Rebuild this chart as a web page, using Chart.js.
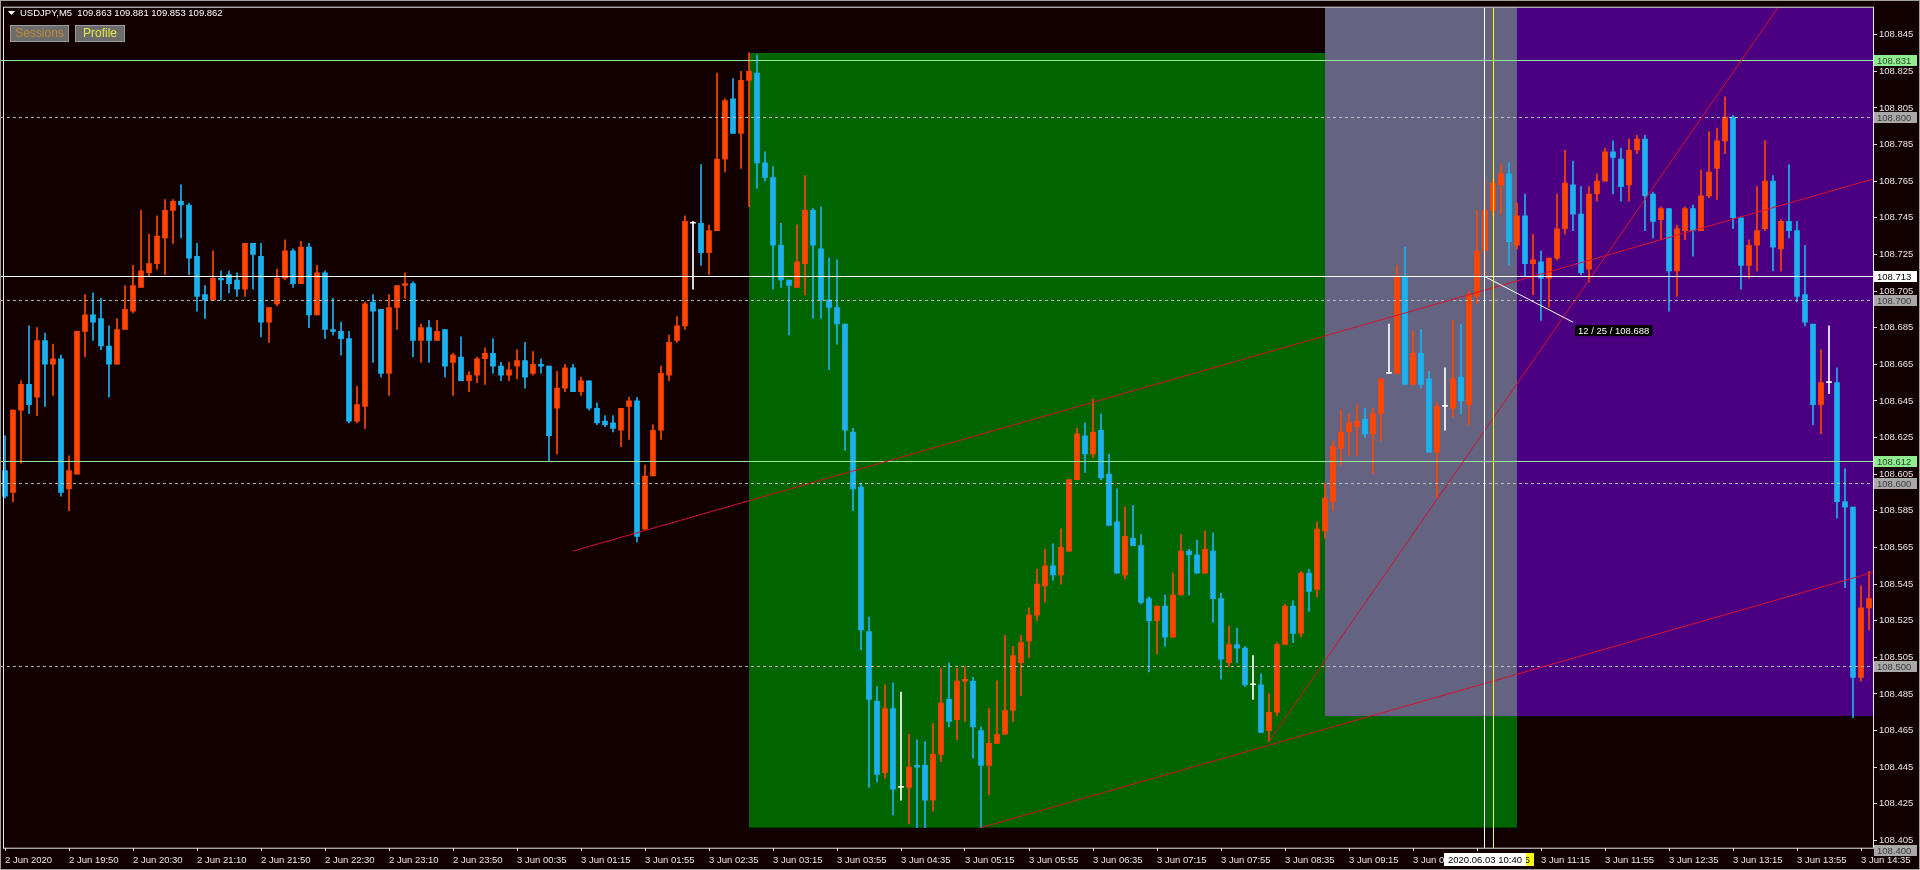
<!DOCTYPE html>
<html>
<head>
<meta charset="utf-8">
<script src="https://cdn.jsdelivr.net/npm/chart.js@4.4.1/dist/chart.umd.min.js"></script>
<style>
  html, body { margin: 0; padding: 0; background: #120000; }
  #wrap { position: relative; width: 1920px; height: 870px; }
</style>
</head>
<body>
<div id="wrap"><canvas id="chart"></canvas></div>
<script>
// ---------- Data (USDJPY M5, one value per bar) ----------
const opens = [
  108.607,108.595,108.640,108.654,108.647,108.678,108.665,108.668,108.597,108.605,
  108.683,108.692,108.690,108.675,108.665,108.684,108.694,108.707,108.715,108.720,
  108.734,108.749,108.754,108.752,108.724,108.703,108.700,108.712,108.714,108.711,
  108.706,108.731,108.724,108.688,108.698,108.712,108.727,108.709,108.729,108.692,
  108.715,108.684,108.683,108.679,108.634,108.642,108.699,108.695,108.660,108.696,
  108.708,108.709,108.678,108.685,108.678,108.684,108.666,108.669,108.656,108.659,
  108.668,108.671,108.664,108.659,108.664,108.667,108.660,108.665,108.664,108.641,
  108.652,108.663,108.650,108.656,108.641,108.634,108.633,108.629,108.642,108.645,
  108.575,108.604,108.629,108.659,108.678,108.686,108.742,108.742,108.726,108.738,
  108.777,108.810,108.791,108.820,108.824,108.775,108.767,108.730,108.711,108.707,
  108.720,108.749,108.728,108.700,108.696,108.687,108.628,108.598,108.519,108.481,
  108.442,108.477,108.434,108.434,108.446,108.446,108.427,108.452,108.482,108.471,
  108.492,108.492,108.465,108.446,108.458,108.463,108.476,108.502,108.514,108.528,
  108.544,108.555,108.550,108.563,108.602,108.626,108.616,108.629,108.605,108.579,
  108.550,108.570,108.566,108.537,108.525,108.533,108.516,108.539,108.563,108.561,
  108.551,108.563,108.537,108.502,108.512,108.510,108.490,108.490,108.465,108.475,
  108.512,108.533,108.518,108.551,108.542,108.574,108.590,108.619,108.628,108.631,
  108.635,108.627,108.638,108.660,108.660,108.713,108.654,108.671,108.657,108.617,
  108.642,108.641,108.658,108.643,108.702,108.727,108.749,108.763,108.769,108.730,
  108.746,108.720,108.721,108.712,108.723,108.739,108.763,108.747,108.717,108.758,
  108.765,108.781,108.777,108.763,108.782,108.788,108.758,108.744,108.750,108.716,
  108.738,108.750,108.738,108.757,108.772,108.787,108.800,108.745,108.719,108.730,
  108.739,108.765,108.728,108.743,108.738,108.703,108.687,108.643,108.655,108.655,
  108.590,108.587,108.494,108.532
];
const highs = [
  108.626,108.640,108.656,108.686,108.685,108.682,108.676,108.670,108.615,108.683,
  108.703,108.704,108.701,108.686,108.690,108.708,108.719,108.749,108.736,108.746,
  108.755,108.755,108.763,108.753,108.731,108.708,108.727,108.716,108.716,108.715,
  108.731,108.731,108.731,108.696,108.717,108.733,108.728,108.732,108.731,108.719,
  108.716,108.701,108.688,108.683,108.653,108.699,108.703,108.695,108.703,108.708,
  108.715,108.710,108.687,108.689,108.689,108.684,108.671,108.680,108.661,108.669,
  108.674,108.679,108.666,108.666,108.673,108.677,108.672,108.668,108.664,108.661,
  108.665,108.665,108.658,108.656,108.644,108.637,108.637,108.641,108.647,108.647,
  108.610,108.632,108.664,108.681,108.691,108.746,108.743,108.774,108.741,108.824,
  108.810,108.821,108.825,108.835,108.834,108.781,108.773,108.742,108.711,108.741,
  108.768,108.750,108.751,108.723,108.722,108.687,108.630,108.600,108.527,108.489,
  108.490,108.491,108.486,108.463,108.460,108.459,108.469,108.499,108.502,108.499,
  108.500,108.494,108.467,108.477,108.492,108.517,108.511,108.517,108.532,108.553,
  108.564,108.567,108.575,108.602,108.630,108.633,108.646,108.638,108.616,108.597,
  108.587,108.588,108.572,108.538,108.533,108.539,108.551,108.572,108.564,108.569,
  108.574,108.573,108.540,108.522,108.521,108.511,108.506,108.496,108.485,108.513,
  108.534,108.536,108.552,108.553,108.579,108.600,108.623,108.640,108.638,108.643,
  108.641,108.641,108.657,108.687,108.719,108.729,108.683,108.684,108.661,108.644,
  108.663,108.689,108.687,108.705,108.749,108.765,108.766,108.774,108.775,108.753,
  108.758,108.736,108.727,108.723,108.758,108.782,108.776,108.762,108.762,108.769,
  108.783,108.787,108.783,108.788,108.790,108.790,108.759,108.751,108.750,108.741,
  108.751,108.752,108.771,108.792,108.794,108.811,108.801,108.745,108.733,108.762,
  108.787,108.768,108.744,108.774,108.743,108.730,108.687,108.673,108.686,108.663,
  108.608,108.587,108.544,108.552
];
const lows = [
  108.592,108.590,108.611,108.638,108.637,108.642,108.648,108.593,108.585,108.605,
  108.669,108.678,108.673,108.647,108.665,108.684,108.693,108.707,108.713,108.717,
  108.714,108.731,108.734,108.714,108.694,108.690,108.700,108.700,108.704,108.702,
  108.702,108.706,108.680,108.677,108.697,108.711,108.707,108.709,108.685,108.692,
  108.679,108.681,108.670,108.633,108.633,108.630,108.666,108.658,108.648,108.684,
  108.701,108.669,108.666,108.666,108.678,108.658,108.648,108.656,108.650,108.655,
  108.654,108.660,108.656,108.656,108.657,108.652,108.659,108.660,108.612,108.616,
  108.650,108.650,108.648,108.640,108.632,108.631,108.628,108.620,108.624,108.568,
  108.575,108.604,108.624,108.656,108.677,108.684,108.706,108.719,108.714,108.738,
  108.770,108.791,108.772,108.751,108.761,108.765,108.706,108.707,108.681,108.707,
  108.703,108.690,108.690,108.662,108.676,108.618,108.585,108.509,108.434,108.437,
  108.439,108.419,108.427,108.414,108.412,108.412,108.421,108.448,108.467,108.460,
  108.470,108.450,108.412,108.430,108.458,108.463,108.470,108.484,108.505,108.525,
  108.535,108.547,108.545,108.563,108.602,108.606,108.614,108.602,108.577,108.551,
  108.548,108.566,108.534,108.497,108.507,108.511,108.516,108.539,108.539,108.551,
  108.551,108.524,108.493,108.500,108.502,108.489,108.482,108.464,108.459,108.473,
  108.512,108.513,108.516,108.530,108.538,108.570,108.585,108.610,108.615,108.615,
  108.625,108.605,108.623,108.660,108.660,108.654,108.654,108.652,108.617,108.592,
  108.629,108.636,108.638,108.632,108.698,108.714,108.746,108.747,108.719,108.728,
  108.713,108.703,108.689,108.696,108.722,108.736,108.738,108.714,108.710,108.754,
  108.765,108.758,108.754,108.754,108.780,108.738,108.734,108.733,108.694,108.702,
  108.733,108.724,108.738,108.756,108.755,108.780,108.739,108.706,108.712,108.716,
  108.738,108.716,108.716,108.734,108.699,108.686,108.632,108.627,108.649,108.581,
  108.543,108.472,108.492,108.520
];
const closes = [
  108.593,108.640,108.654,108.643,108.678,108.665,108.668,108.595,108.607,108.683,
  108.692,108.688,108.675,108.665,108.684,108.695,108.708,108.716,108.720,108.735,
  108.749,108.754,108.752,108.723,108.702,108.700,108.712,108.711,108.709,108.706,
  108.731,108.725,108.688,108.696,108.712,108.727,108.709,108.729,108.692,108.715,
  108.684,108.683,108.679,108.634,108.643,108.698,108.694,108.660,108.696,108.708,
  108.709,108.678,108.685,108.678,108.683,108.664,108.670,108.656,108.659,108.668,
  108.671,108.664,108.659,108.662,108.667,108.658,108.665,108.664,108.626,108.652,
  108.663,108.650,108.656,108.641,108.633,108.632,108.630,108.641,108.645,108.571,
  108.604,108.629,108.660,108.677,108.686,108.743,108.742,108.726,108.738,108.777,
  108.809,108.791,108.820,108.825,108.775,108.767,108.730,108.711,108.708,108.721,
  108.749,108.730,108.700,108.696,108.687,108.629,108.597,108.520,108.482,108.441,
  108.477,108.433,108.434,108.445,108.445,108.427,108.452,108.480,108.470,108.492,
  108.493,108.467,108.446,108.458,108.463,108.476,108.506,108.513,108.528,108.545,
  108.555,108.550,108.565,108.602,108.627,108.616,108.628,108.603,108.577,108.551,
  108.571,108.566,108.535,108.525,108.533,108.516,108.539,108.563,108.561,108.551,
  108.564,108.537,108.504,108.512,108.510,108.490,108.490,108.464,108.475,108.512,
  108.533,108.518,108.551,108.541,108.575,108.592,108.620,108.628,108.633,108.634,
  108.627,108.638,108.657,108.660,108.713,108.654,108.671,108.654,108.617,108.642,
  108.642,108.657,108.645,108.703,108.727,108.749,108.764,108.769,108.732,108.746,
  108.720,108.722,108.712,108.723,108.739,108.764,108.747,108.715,108.758,108.765,
  108.781,108.778,108.762,108.782,108.788,108.757,108.743,108.750,108.716,108.739,
  108.750,108.738,108.757,108.770,108.787,108.800,108.745,108.719,108.730,108.738,
  108.765,108.729,108.743,108.738,108.702,108.688,108.643,108.655,108.655,108.590,
  108.587,108.494,108.532,108.537
];

// time axis: bar index of each label and its text
const xTickIdx = [0, 8, 16, 24, 32, 40, 48, 56, 64, 72, 80, 88, 96, 104, 112,
  120, 128, 136, 144, 152, 160, 168, 176, 184, 192, 200, 208, 216, 224, 232];
const xTickText = ['2 Jun 2020', '2 Jun 19:50', '2 Jun 20:30', '2 Jun 21:10', '2 Jun 21:50',
  '2 Jun 22:30', '2 Jun 23:10', '2 Jun 23:50', '3 Jun 00:35', '3 Jun 01:15', '3 Jun 01:55',
  '3 Jun 02:35', '3 Jun 03:15', '3 Jun 03:55', '3 Jun 04:35', '3 Jun 05:15', '3 Jun 05:55',
  '3 Jun 06:35', '3 Jun 07:15', '3 Jun 07:55', '3 Jun 08:35', '3 Jun 09:15', '3 Jun 09:55',
  '3 Jun 10:35', '3 Jun 11:15', '3 Jun 11:55', '3 Jun 12:35', '3 Jun 13:15', '3 Jun 13:55',
  '3 Jun 14:35'];

// price axis ticks
const yTickVals = [108.845, 108.825, 108.805, 108.785, 108.765, 108.745, 108.725, 108.705,
  108.685, 108.665, 108.645, 108.625, 108.605, 108.585, 108.565, 108.545, 108.525, 108.505,
  108.485, 108.465, 108.445, 108.425, 108.405];

// chart objects (bar index / price)
const dashLevels = [108.800, 108.700, 108.600, 108.500, 108.400];
const greenLevels = [108.831, 108.612];
const crossPrice = 108.713;
const crossBar = 185;
const crossEnd = [196, 108.688];
const vlineBar = 186;
const sessionBox = { from: 93, to: 189, top: 108.835, bottom: 108.412 };
const profileBox = { from: 165, bottom: 108.473 };
const overlapBox = { from: 165, to: 189, bottom: 108.473 };
const trendA = { bar: 71, price: 108.563, slope: 0.00125 };
const trendB = { bar: 122, price: 108.412, slope: 0.00125 };
const trendC = { bar: 158, price: 108.459, slope: 0.0063 };

// ---------- Styles ----------
const BG = '#120000';
const UP = '#ff4500';
const DOWN = '#1cb2f0';
const DOJI = '#ffffff';
const FONT = "'Liberation Sans', Arial, sans-serif";

const candleColors = opens.map((o, i) => {
    if (o === closes[i]) return DOJI;
    return closes[i] > o ? UP : DOWN;
});

const labels = opens.map((_, i) => i);

// Draws the rectangles, lines and text boxes MT4 puts on the chart
const mtObjects = {
    id: 'mtObjects',
    beforeDraw(chart) {
        const { ctx, width, height } = chart;
        ctx.save();
        ctx.fillStyle = BG;
        ctx.fillRect(0, 0, width, height);
        ctx.restore();
    },
    beforeDatasetsDraw(chart) {
        const { ctx, chartArea: a, scales: { x, y } } = chart;
        const bx = i => x.getPixelForValue(i);
        ctx.save();
        // session rectangle
        ctx.fillStyle = '#006400';
        ctx.fillRect(bx(sessionBox.from), y.getPixelForValue(sessionBox.top),
            bx(sessionBox.to) - bx(sessionBox.from),
            y.getPixelForValue(sessionBox.bottom) - y.getPixelForValue(sessionBox.top));
        // profile rectangle
        ctx.fillStyle = '#4b0082';
        ctx.fillRect(bx(profileBox.from), a.top, a.right - bx(profileBox.from),
            y.getPixelForValue(profileBox.bottom) - a.top);
        // overlap
        ctx.fillStyle = '#646482';
        ctx.fillRect(bx(overlapBox.from), a.top, bx(overlapBox.to) - bx(overlapBox.from),
            y.getPixelForValue(overlapBox.bottom) - a.top);
        ctx.restore();
    },
    afterDatasetsDraw(chart) {
        const { ctx, chartArea: a, scales: { x, y } } = chart;
        const x0 = x.getPixelForValue(0);
        const step = x.getPixelForValue(1) - x0;
        const bx = i => x0 + i * step;
        ctx.save();
        ctx.beginPath();
        ctx.rect(a.left, a.top, a.right - a.left, a.bottom - a.top + 1);
        ctx.clip();
        ctx.lineWidth = 1;

        // dashed round levels
        ctx.strokeStyle = 'rgba(205,205,205,0.85)';
        ctx.setLineDash([3, 3]);
        dashLevels.forEach(p => {
            const py = Math.round(y.getPixelForValue(p)) + 0.5;
            ctx.beginPath();
            ctx.moveTo(a.left, py);
            ctx.lineTo(a.right, py);
            ctx.stroke();
        });
        ctx.setLineDash([]);

        // solid levels
        ctx.strokeStyle = '#98e698';
        greenLevels.forEach(p => {
            const py = Math.round(y.getPixelForValue(p)) + 0.5;
            ctx.beginPath();
            ctx.moveTo(a.left, py);
            ctx.lineTo(a.right, py);
            ctx.stroke();
        });

        // trend lines
        ctx.strokeStyle = '#d8102c';
        [trendA, trendB, trendC].forEach(t => {
            const endBar = (a.right - x0) / step;
            ctx.beginPath();
            ctx.moveTo(bx(t.bar), y.getPixelForValue(t.price));
            ctx.lineTo(bx(endBar), y.getPixelForValue(t.price + (endBar - t.bar) * t.slope));
            ctx.stroke();
        });

        // yellow vertical line
        ctx.strokeStyle = '#ffff00';
        const vx = Math.round(bx(vlineBar)) + 0.5;
        ctx.beginPath();
        ctx.moveTo(vx, a.top);
        ctx.lineTo(vx, a.bottom);
        ctx.stroke();

        // crosshair
        ctx.strokeStyle = '#ffffff';
        const cx = Math.round(bx(crossBar)) - 0.5;
        const cy = Math.round(y.getPixelForValue(crossPrice)) + 0.5;
        ctx.beginPath();
        ctx.moveTo(cx, a.top);
        ctx.lineTo(cx, a.bottom);
        ctx.moveTo(a.left, cy);
        ctx.lineTo(a.right, cy);
        ctx.stroke();
        const ex = bx(crossEnd[0]);
        const ey = y.getPixelForValue(crossEnd[1]);
        ctx.beginPath();
        ctx.moveTo(cx, cy);
        ctx.lineTo(ex, ey);
        ctx.stroke();
        ctx.restore();

        // crosshair measure label
        ctx.save();
        ctx.font = '9.5px ' + FONT;
        const txt = '12 / 25 / 108.688';
        const tw = ctx.measureText(txt).width;
        ctx.fillStyle = '#000000';
        ctx.fillRect(ex + 2, ey + 3, tw + 6, 11);
        ctx.fillStyle = '#ffffff';
        ctx.textBaseline = 'middle';
        ctx.fillText(txt, ex + 5, ey + 9);
        ctx.restore();
    },
    afterDraw(chart) {
        const { ctx, chartArea: a, scales: { x, y }, width, height } = chart;
        ctx.save();
        // window and plot frames
        ctx.lineWidth = 1;
        ctx.strokeStyle = '#a0a0a0';
        ctx.strokeRect(0.5, 0.5, width - 1, height - 1);
        ctx.strokeStyle = '#e8e8e8';
        ctx.strokeRect(3.5, a.top - 0.5, Math.round(a.right) - 3, Math.round(a.bottom - a.top) + 1);

        // price boxes on the axis
        ctx.font = '9.5px ' + FONT;
        ctx.textBaseline = 'middle';
        const box = (p, bg, fg) => {
            const py = Math.round(y.getPixelForValue(p));
            ctx.fillStyle = bg;
            ctx.fillRect(a.right + 1, py - 5, 43, 11);
            ctx.fillStyle = fg;
            ctx.fillText(p.toFixed(3), a.right + 4, py + 1);
        };
        dashLevels.forEach(p => box(p, '#a9a9a9', '#3a3a3a'));
        greenLevels.forEach(p => box(p, '#90ee90', '#2a4a2a'));
        box(crossPrice, '#ffffff', '#000000');

        // time boxes: vertical line label, then crosshair label on top
        const tb = (bar, txt, bg) => {
            const tw = ctx.measureText(txt).width + 8;
            const px = x.getPixelForValue(bar);
            ctx.fillStyle = bg;
            ctx.fillRect(px - tw / 2, a.bottom + 5, tw, 13);
            ctx.fillStyle = '#000000';
            ctx.fillText(txt, px - tw / 2 + 4, a.bottom + 12);
        };
        tb(vlineBar, '2020.06.03 10:45', '#ffff00');
        tb(crossBar, '2020.06.03 10:40', '#ffffff');

        // header
        ctx.fillStyle = '#ffffff';
        ctx.font = '9.5px ' + FONT;
        ctx.beginPath();
        ctx.moveTo(8, 11);
        ctx.lineTo(15, 11);
        ctx.lineTo(11.5, 15);
        ctx.closePath();
        ctx.fill();
        ctx.fillText('USDJPY,M5  109.863 109.881 109.853 109.862', 20, 13);

        // buttons
        const btn = (bx, w, txt, col) => {
            ctx.fillStyle = '#6c6c6c';
            ctx.fillRect(bx, 25, w, 17);
            ctx.strokeStyle = '#9c9c9c';
            ctx.strokeRect(bx + 0.5, 25.5, w - 1, 16);
            ctx.fillStyle = col;
            ctx.font = '12px ' + FONT;
            ctx.textAlign = 'center';
            ctx.fillText(txt, bx + w / 2, 34);
            ctx.textAlign = 'left';
        };
        btn(10, 59, 'Sessions', '#c08a34');
        btn(75, 50, 'Profile', '#e6e64a');
        ctx.restore();
    }
};

Chart.defaults.font.family = FONT;

const ctx = document.getElementById('chart').getContext('2d');
const chart = new Chart(ctx, {
    type: 'bar',
    data: {
        labels: labels,
        datasets: [
            {
                label: 'Body',
                data: opens.map((o, i) => [o, closes[i]]),
                backgroundColor: candleColors,
                barThickness: 5,
                minBarLength: 1,
                grouped: false,
                order: 1
            },
            {
                label: 'Wick',
                data: lows.map((l, i) => [l, highs[i]]),
                backgroundColor: candleColors,
                barThickness: 1,
                grouped: false,
                order: 2
            }
        ]
    },
    options: {
        responsive: true,
        maintainAspectRatio: false,
        animation: false,
        devicePixelRatio: 1,
        layout: { padding: { left: 1, top: 6, right: 0, bottom: 0 } },
        plugins: {
            legend: { display: false },
            tooltip: { enabled: false }
        },
        scales: {
            x: {
                type: 'category',
                offset: true,
                afterFit: s => { s.height = 22; },
                afterBuildTicks: s => { s.ticks = xTickIdx.map(v => ({ value: v })); },
                grid: { drawOnChartArea: false, offset: false, tickLength: 3, color: '#d8d8d8' },
                border: { display: false },
                ticks: {
                    autoSkip: false,
                    maxRotation: 0,
                    align: 'start',
                    padding: 4,
                    color: '#e6e6e6',
                    font: { size: 9.5 },
                    callback: (v, i) => xTickText[i]
                }
            },
            y: {
                position: 'right',
                min: 108.40087,
                max: 108.85971,
                afterFit: s => { s.width = 47; },
                afterBuildTicks: s => { s.ticks = yTickVals.map(v => ({ value: v })); },
                grid: { drawOnChartArea: false, tickLength: 4, color: '#d8d8d8' },
                border: { display: false },
                ticks: {
                    padding: 2,
                    color: '#e6e6e6',
                    font: { size: 9.5 },
                    crossAlign: 'near',
                    callback: v => v.toFixed(3)
                }
            }
        }
    },
    plugins: [mtObjects]
});
</script>
</body>
</html>
